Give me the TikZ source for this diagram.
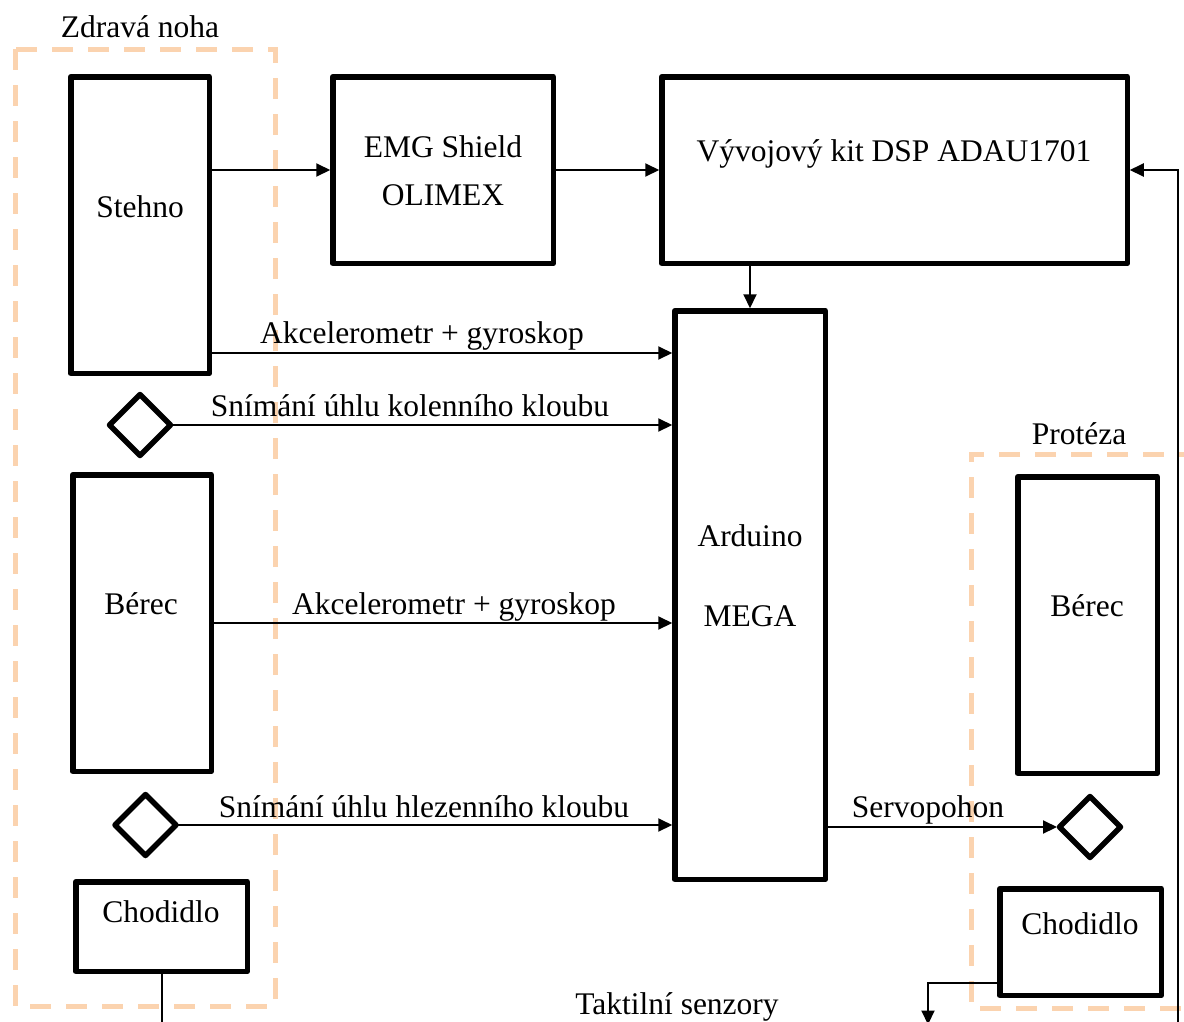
\documentclass[tikz,border=0pt]{standalone}
\usepackage{fontspec}
\setmainfont{Liberation Serif}
\usetikzlibrary{shapes.geometric,arrows.meta}
\definecolor{peach}{RGB}{251,211,175}
\begin{document}
\begin{tikzpicture}[x=1pt,y=-1pt,
  box/.style={draw, line width=5.5pt, line join=round, inner sep=0pt, outer sep=0pt},
  dia/.style={draw, diamond, line width=5.5pt, line join=round, inner sep=0pt, outer sep=0pt, minimum width=61pt, minimum height=61pt},
  txt/.style={anchor=base, inner sep=0pt, font=\fontsize{31.5}{48}\selectfont},
  conn/.style={line width=2pt},
  arr/.style={conn, shorten >=2.5pt, -{Triangle[length=14pt,width=13pt]}},
  grp/.style={draw=peach, line width=5pt, dash pattern=on 21pt off 15pt}]
\useasboundingbox (0,0) rectangle (1184,1021);
\clip (0,0) rectangle (1184,1021);

% groups
\draw[grp] (15,49) rectangle (275,1006);
\draw[grp] (1200,454) -- (971,454) -- (971,1008) -- (1200,1008);
\node[txt] (zdrava) at (140,37) {Zdravá noha};
\node[txt] (proteza) at (1079,444) {Protéza};

% boxes
\node[box, minimum width=138.5pt, minimum height=296.5pt] (stehno) at (140,225) {};
\node[txt] (stehnoT) at (140,217) {Stehno};
\node[box, minimum width=220.5pt, minimum height=186.5pt] (emg) at (443,170) {};
\node[txt] (emgT1) at (443,157) {EMG Shield};
\node[txt] (emgT2) at (443,205) {OLIMEX};
\node[box, minimum width=465.5pt, minimum height=186.5pt] (dsp) at (894.5,170) {};
\node[txt] (dspT) at (894,161) {Vývojový kit DSP ADAU1701};
\node[box, minimum width=150.5pt, minimum height=568.5pt] (ard) at (750,595) {};
\node[txt] (ardT1) at (750,546) {Arduino};
\node[txt] (ardT2) at (750,626) {MEGA};
\node[dia] (d1) at (140,425) {};
\node[box, minimum width=138.5pt, minimum height=296.5pt] (berL) at (142,623) {};
\node[txt] (berLT) at (141,614) {Bérec};
\node[dia] (d2) at (145.5,825) {};
\node[box, minimum width=171.5pt, minimum height=89.5pt] (chodL) at (161.5,926.5) {};
\node[txt] (chodLT) at (161,922) {Chodidlo};
\node[box, minimum width=139.5pt, minimum height=296.5pt] (berR) at (1087.5,625) {};
\node[txt] (berRT) at (1087,616) {Bérec};
\node[dia] (d3) at (1090,827) {};
\node[box, minimum width=161.5pt, minimum height=106.5pt] (chodR) at (1080.5,942) {};
\node[txt] (chodRT) at (1080,934) {Chodidlo};

% helper coordinates
\coordinate (y353) at (0,353);
\coordinate (y983) at (0,983);
\coordinate (bot) at (0,1040);
\coordinate (tak) at (928,1027);
\coordinate (rb) at (1178,1040);

% connectors
\draw[arr] (stehno.east |- emg.west) -- (emg.west);
\draw[arr] (emg.east) -- (dsp.west);
\draw[arr] (dsp.south -| ard.north) -- (ard.north);
\draw[arr] (stehno.east |- y353) -- (ard.west |- y353);
\draw[arr] (d1.east) -- (ard.west |- d1.east);
\draw[arr] (berL.east) -- (ard.west |- berL.east);
\draw[arr] (d2.east) -- (ard.west |- d2.east);
\draw[arr] (ard.east |- d3.west) -- (d3.west);
\draw[conn] (chodL.south) -- (chodL.south |- bot);
\draw[arr] (chodR.west |- y983) -| (tak);
\draw[arr] (rb) |- (dsp.east);

% labels
\node[txt] (l1) at (422,343) {Akcelerometr + gyroskop};
\node[txt] (l2) at (410,416) {Snímání úhlu kolenního kloubu};
\node[txt] (l3) at (454,614) {Akcelerometr + gyroskop};
\node[txt] (l4) at (424,817) {Snímání úhlu hlezenního kloubu};
\node[txt] (l5) at (928,817) {Servopohon};
\node[txt] (l6) at (677,1014) {Taktilní senzory};
\end{tikzpicture}
\end{document}
